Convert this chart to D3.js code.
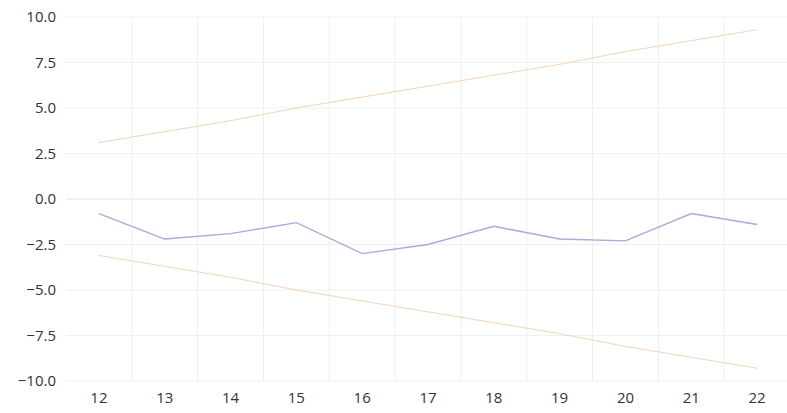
<!DOCTYPE html>
<html><head><meta charset="utf-8">
<script src="https://cdn.jsdelivr.net/npm/d3@7"></script>
<style>body{margin:0;background:#fff}svg{display:block}text{font-family:"Open Sans",sans-serif}</style>
</head><body><svg id="c" width="787" height="413"></svg>
<script>
const categories = ["12","13","14","15","16","17","18","19","20","21","22"];
const values = [-0.8,-2.2,-1.9,-1.3,-3.0,-2.5,-1.5,-2.2,-2.3,-0.8,-1.4];
const upperLimit = [3.1,3.7,4.3,5.0,5.6,6.2,6.8,7.4,8.1,8.7,9.3];
const lowerLimit = [-3.1,-3.7,-4.3,-5.0,-5.6,-6.2,-6.8,-7.4,-8.1,-8.7,-9.3];
const yTicks = [10,7.5,5,2.5,0,-2.5,-5,-7.5,-10];

const svg = d3.select("#c");
const x = d3.scaleBand().domain(categories).range([66,790]);
const y = d3.scaleLinear().domain([-10,10]).range([381,17]);
const cx = d => x(d) + x.bandwidth()/2;

svg.append("g").selectAll("line").data(yTicks).join("line")
  .attr("x1",66).attr("x2",790).attr("y1",d=>y(d)).attr("y2",d=>y(d))
  .attr("stroke",d=>d===0?"#e4e4e4":"#efefef").attr("stroke-width",1);
svg.append("g").selectAll("line").data(categories.slice(1)).join("line")
  .attr("x1",d=>x(d)).attr("x2",d=>x(d)).attr("y1",17).attr("y2",381)
  .attr("stroke","#efefef").attr("stroke-width",1);

const line = d3.line().x((d,i)=>cx(categories[i])).y(d=>y(d));
svg.append("path").datum(upperLimit).attr("d",line).attr("fill","none")
  .attr("stroke","#f6d2b8").attr("stroke-width",1);
svg.append("path").datum(lowerLimit).attr("d",line).attr("fill","none")
  .attr("stroke","#f6d2b8").attr("stroke-width",1);
svg.append("path").datum(values).attr("d",line).attr("fill","none")
  .attr("stroke","#a9a9dc").attr("stroke-width",1.4);

svg.append("g").selectAll("text").data(yTicks).join("text")
  .attr("x",56).attr("y",d=>y(d)).attr("dy","0.35em").attr("text-anchor","end")
  .attr("font-size",15).attr("fill","#333").text(d=>d3.format(".1f")(d));
svg.append("g").selectAll("text").data(categories).join("text")
  .attr("x",d=>cx(d)).attr("y",398).attr("dy","0.35em").attr("text-anchor","middle")
  .attr("font-size",15).attr("fill","#333").text(d=>d);
</script></body></html>
